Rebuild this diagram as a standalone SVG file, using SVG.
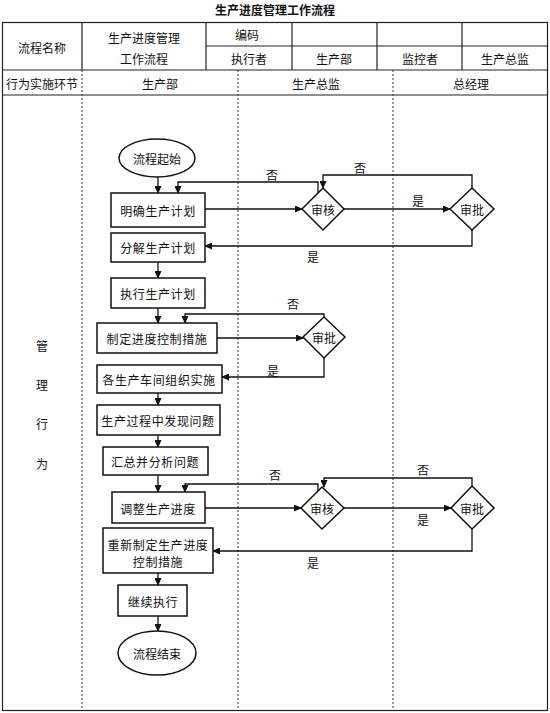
<svg xmlns="http://www.w3.org/2000/svg" width="550" height="713" viewBox="0 0 550 713">
<style>
text{font-family:"Noto Sans CJK SC","Noto Sans CJK JP",sans-serif;font-size:12px;fill:#111;text-anchor:middle;dominant-baseline:central}
.title{font-weight:bold;font-size:12px}
.tbl{stroke:#222;stroke-width:1.2;fill:none}
.dot{stroke:#333;stroke-width:1;stroke-dasharray:2,2;fill:none}
.node{fill:#fff;stroke:#111;stroke-width:1.5}
.con{stroke:#111;stroke-width:1.3;fill:none}
.bt{letter-spacing:0.6px}
</style>
<defs>
<marker id="ah" markerWidth="8" markerHeight="7" refX="7" refY="3.5" orient="auto" markerUnits="userSpaceOnUse">
<path d="M0,0 L8,3.5 L0,7 z" fill="#111"/>
</marker>
</defs>
<rect width="550" height="713" fill="#fff"/>
<text class="title" x="275" y="9">生产进度管理工作流程</text>
<g id="table">
<rect class="tbl" x="2.5" y="22.5" width="545" height="688"/>
<line class="tbl" x1="2.5" y1="70" x2="547.5" y2="70"/>
<line class="tbl" x1="2.5" y1="95" x2="547.5" y2="95"/>
<line class="tbl" x1="206" y1="46" x2="547.5" y2="46"/>
<line class="tbl" x1="82" y1="22.5" x2="82" y2="70"/>
<line class="tbl" x1="206" y1="22.5" x2="206" y2="70"/>
<line class="tbl" x1="292" y1="22.5" x2="292" y2="70"/>
<line class="tbl" x1="377" y1="22.5" x2="377" y2="70"/>
<line class="tbl" x1="462" y1="22.5" x2="462" y2="70"/>
<line class="dot" x1="82" y1="70" x2="82" y2="710"/>
<line class="dot" x1="238" y1="70" x2="238" y2="710"/>
<line class="dot" x1="393" y1="70" x2="393" y2="710"/>
<text x="42" y="47">流程名称</text>
<text x="144" y="37">生产进度管理</text>
<text x="144" y="58">工作流程</text>
<text x="247" y="34">编码</text>
<text x="249" y="58">执行者</text>
<text x="334" y="58">生产部</text>
<text x="420" y="58">监控者</text>
<text x="505" y="58">生产总监</text>
<text x="42" y="83">行为实施环节</text>
<text x="160" y="83">生产部</text>
<text x="316" y="83">生产总监</text>
<text x="471" y="83">总经理</text>
<text x="42" y="345">管</text>
<text x="42" y="384">理</text>
<text x="42" y="423">行</text>
<text x="42" y="463">为</text>
</g>
<g id="connectors">
<line class="con" x1="158" y1="177" x2="158" y2="193" marker-end="url(#ah)"/>
<line class="con" x1="205" y1="209" x2="302" y2="209" marker-end="url(#ah)"/>
<line class="con" x1="344" y1="209" x2="450" y2="209" marker-end="url(#ah)"/>
<polyline class="con" points="318,193 318,182 178,182 178,193" marker-end="url(#ah)"/>
<polyline class="con" points="472,188 472,175 323,175 323,188" marker-end="url(#ah)"/>
<polyline class="con" points="472,230 472,246 205,246" marker-end="url(#ah)"/>
<line class="con" x1="158" y1="262" x2="158" y2="278" marker-end="url(#ah)"/>
<line class="con" x1="158" y1="308" x2="158" y2="323" marker-end="url(#ah)"/>
<line class="con" x1="217" y1="338" x2="303" y2="338" marker-end="url(#ah)"/>
<polyline class="con" points="324,317 324,314 185,314 185,323" marker-end="url(#ah)"/>
<polyline class="con" points="324,358 324,377 222,377" marker-end="url(#ah)"/>
<line class="con" x1="158" y1="393" x2="158" y2="405" marker-end="url(#ah)"/>
<line class="con" x1="158" y1="435" x2="158" y2="447" marker-end="url(#ah)"/>
<line class="con" x1="158" y1="475" x2="158" y2="492" marker-end="url(#ah)"/>
<line class="con" x1="205" y1="508" x2="301" y2="508" marker-end="url(#ah)"/>
<line class="con" x1="344" y1="508" x2="451" y2="508" marker-end="url(#ah)"/>
<polyline class="con" points="318,492 318,484 185,484 185,492" marker-end="url(#ah)"/>
<polyline class="con" points="472,486 472,478 324,478 324,487" marker-end="url(#ah)"/>
<polyline class="con" points="472,529 472,551 213,551" marker-end="url(#ah)"/>
<line class="con" x1="158" y1="573" x2="158" y2="585" marker-end="url(#ah)"/>
<line class="con" x1="158" y1="616" x2="158" y2="631" marker-end="url(#ah)"/>
<text x="272" y="174">否</text>
<text x="360" y="167">否</text>
<text x="418" y="200">是</text>
<text x="313" y="256">是</text>
<text x="293" y="303">否</text>
<text x="273" y="370">是</text>
<text x="275" y="474">否</text>
<text x="423" y="469">否</text>
<text x="423" y="519">是</text>
<text x="313" y="562">是</text>
</g>
<g id="start"><ellipse class="node" cx="157" cy="158" rx="38" ry="19"/><text x="157" y="158">流程起始</text></g>
<g id="n1"><rect class="node" x="111" y="193" width="94" height="34"/><text class="bt" x="158" y="210">明确生产计划</text></g>
<g id="d1"><polygon class="node" points="323,188 344,209 323,230 302,209"/><text x="323" y="209">审核</text></g>
<g id="d2"><polygon class="node" points="472,188 494,209 472,230 450,209"/><text x="472" y="209">审批</text></g>
<g id="n2"><rect class="node" x="111" y="233" width="94" height="29"/><text class="bt" x="158" y="247">分解生产计划</text></g>
<g id="n3"><rect class="node" x="111" y="278" width="94" height="30"/><text class="bt" x="158" y="293">执行生产计划</text></g>
<g id="n4"><rect class="node" x="97" y="323" width="120" height="30"/><text class="bt" x="157" y="338">制定进度控制措施</text></g>
<g id="d3"><polygon class="node" points="324,317 345,337 324,358 303,337"/><text x="324" y="337">审批</text></g>
<g id="n5"><rect class="node" x="97" y="365" width="125" height="28"/><text class="bt" x="159" y="379">各生产车间组织实施</text></g>
<g id="n6"><rect class="node" x="97" y="405" width="123" height="30"/><text class="bt" x="158" y="420">生产过程中发现问题</text></g>
<g id="n7"><rect class="node" x="103" y="447" width="105" height="28"/><text class="bt" x="155" y="461">汇总并分析问题</text></g>
<g id="n8"><rect class="node" x="112" y="492" width="93" height="31"/><text class="bt" x="158" y="508">调整生产进度</text></g>
<g id="d4"><polygon class="node" points="322,487 344,508 322,529 301,508"/><text x="322" y="508">审核</text></g>
<g id="d5"><polygon class="node" points="472,486 494,508 472,529 451,508"/><text x="472" y="508">审批</text></g>
<g id="n9"><rect class="node" x="103" y="528" width="110" height="45"/><text class="bt" x="158" y="544">重新制定生产进度</text><text class="bt" x="158" y="561">控制措施</text></g>
<g id="n10"><rect class="node" x="118" y="585" width="69" height="31"/><text class="bt" x="153" y="601">继续执行</text></g>
<g id="end"><ellipse class="node" cx="157" cy="653" rx="39" ry="22"/><text x="157" y="653">流程结束</text></g>
</svg>
